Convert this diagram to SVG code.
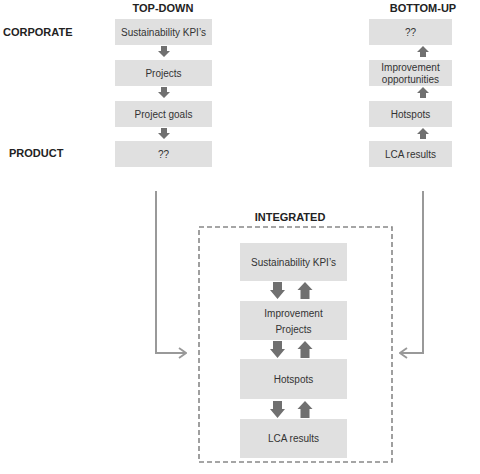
<svg xmlns="http://www.w3.org/2000/svg" xmlns:xlink="http://www.w3.org/1999/xlink" width="480" height="474" viewBox="0 0 480 474">
<style>
.box{fill:#e0e0e0;}
.t{font-family:"Liberation Sans",Arial,sans-serif;font-size:10px;fill:#333;text-anchor:middle;}
.h{font-family:"Liberation Sans",Arial,sans-serif;font-size:11px;font-weight:bold;fill:#222;text-anchor:middle;}
.l{font-family:"Liberation Sans",Arial,sans-serif;font-size:11px;font-weight:bold;fill:#222;}
.conn{fill:none;stroke:#999;stroke-width:2;}
.ar{fill:#707070;}
</style>
<defs>
<marker id="chev" viewBox="0 0 10 12" refX="9" refY="6" markerWidth="10" markerHeight="12" markerUnits="userSpaceOnUse" orient="auto">
<path d="M2,1 L9,6 L2,11" fill="none" stroke="#999" stroke-width="1.8"/>
</marker>
<polygon id="sdown" points="-3,0 3,0 3,5 6,5 0,11 -6,5 -3,5"/>
<polygon id="sup" points="-3,9 3,9 3,4 6,4 0,-2 -6,4 -3,4"/>
<polygon id="bdown" points="-4.5,0 4.5,0 4.5,8 7.5,8 0,17 -7.5,8 -4.5,8"/>
<polygon id="bup" points="-4.5,17 4.5,17 4.5,8 7.5,8 0,0 -7.5,8 -4.5,8"/>
</defs>

<text class="h" x="163" y="12">TOP-DOWN</text>
<text class="h" x="423" y="12">BOTTOM-UP</text>
<text class="l" x="3" y="36">CORPORATE</text>
<text class="l" x="9" y="157">PRODUCT</text>
<text class="h" x="290" y="221">INTEGRATED</text>

<g id="td1"><rect class="box" x="115" y="19" width="97" height="26"/><text class="t" x="163.5" y="35.5">Sustainability KPI’s</text></g>
<g id="td2"><rect class="box" x="115" y="60" width="97" height="26"/><text class="t" x="163.5" y="76.5">Projects</text></g>
<g id="td3"><rect class="box" x="115" y="101" width="97" height="26"/><text class="t" x="163.5" y="117.5">Project goals</text></g>
<g id="td4"><rect class="box" x="115" y="141" width="97" height="26"/><text class="t" x="163.5" y="157.5">??</text></g>

<g id="bu1"><rect class="box" x="369" y="19" width="83" height="26"/><text class="t" x="410.5" y="35.5">??</text></g>
<g id="bu2"><rect class="box" x="369" y="60" width="83" height="26"/><text class="t" x="410.5" y="70.5">Improvement</text><text class="t" x="410.5" y="83">opportunities</text></g>
<g id="bu3"><rect class="box" x="369" y="101" width="83" height="26"/><text class="t" x="410.5" y="117.5">Hotspots</text></g>
<g id="bu4"><rect class="box" x="369" y="141" width="83" height="26"/><text class="t" x="410.5" y="157.5">LCA results</text></g>

<g id="integrated">
<rect x="199" y="227" width="193" height="235" fill="none" stroke="#888" stroke-width="1.6" stroke-dasharray="5,3"/>
</g>
<g id="in1"><rect class="box" x="240" y="243" width="107" height="38"/><text class="t" x="293.5" y="265.5">Sustainability KPI’s</text></g>
<g id="in2"><rect class="box" x="240" y="301" width="107" height="39"/><text class="t" x="293.5" y="317">Improvement</text><text class="t" x="293.5" y="333">Projects</text></g>
<g id="in3"><rect class="box" x="240" y="359" width="107" height="40"/><text class="t" x="293.5" y="382.5">Hotspots</text></g>
<g id="in4"><rect class="box" x="240" y="419" width="107" height="39"/><text class="t" x="293.5" y="442">LCA results</text></g>

<g id="connectors">
<path class="conn" d="M156,191 V353 H186" marker-end="url(#chev)"/>
<path class="conn" d="M423,191 V353 H400" marker-end="url(#chev)"/>
<g class="ar">
<use xlink:href="#sdown" x="164" y="46"/>
<use xlink:href="#sdown" x="164" y="87"/>
<use xlink:href="#sdown" x="164" y="128"/>
<use xlink:href="#sup" x="423" y="48"/>
<use xlink:href="#sup" x="423" y="89"/>
<use xlink:href="#sup" x="423" y="130"/>
<use xlink:href="#bdown" x="277.5" y="282"/>
<use xlink:href="#bup" x="305" y="282"/>
<use xlink:href="#bdown" x="277.5" y="341"/>
<use xlink:href="#bup" x="305" y="341"/>
<use xlink:href="#bdown" x="277.5" y="401"/>
<use xlink:href="#bup" x="305" y="401"/>
</g>
</g>
</svg>
